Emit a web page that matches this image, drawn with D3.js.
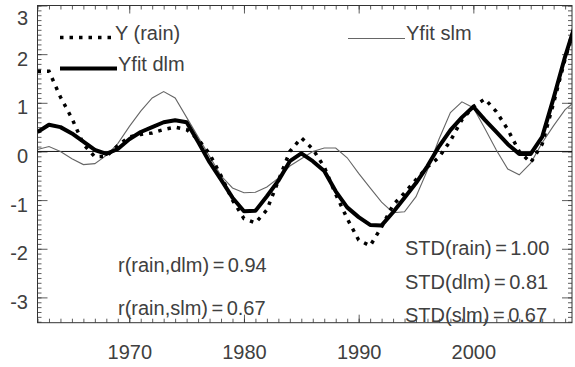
<!DOCTYPE html>
<html>
<head>
<meta charset="utf-8">
<script src="https://cdn.jsdelivr.net/npm/d3@7"></script>
<style>
  html, body { margin: 0; padding: 0; background: #fff; }
  svg { display: block; font-family: 'Liberation Sans', Arial, sans-serif; }
</style>
</head>
<body>
<div id="chart"></div>
<script>
// ---------------------------------------------------------------
// Data (annual values)
const years = d3.range(1962, 2010);
const rain = [
    1.65, 1.65, 1.12, 0.68, 0.15, -0.11, -0.10, 0.12, 0.30, 0.35,
    0.38, 0.45, 0.50, 0.45, 0.25, -0.05, -0.50, -1.00, -1.38, -1.47,
    -1.20, -0.60, 0.00, 0.28, 0.05, -0.32, -0.88, -1.38, -1.82, -1.94,
    -1.55, -1.10, -0.85, -0.58, -0.32, -0.12, 0.22, 0.65, 0.92, 1.08,
    0.82, 0.45, 0.00, -0.23, 0.15, 1.00, 1.90, 2.70,
];
const dlm = [
    0.40, 0.55, 0.50, 0.37, 0.20, 0.03, -0.05, 0.05, 0.25, 0.40,
    0.50, 0.60, 0.64, 0.60, 0.20, -0.22, -0.58, -0.95, -1.23, -1.22,
    -0.92, -0.60, -0.20, -0.04, -0.20, -0.40, -0.82, -1.15, -1.35, -1.51,
    -1.52, -1.25, -0.95, -0.65, -0.30, 0.10, 0.44, 0.70, 0.92, 0.65,
    0.40, 0.15, -0.05, -0.05, 0.30, 1.10, 1.95, 2.70,
];
const slm = [
    0.04, 0.10, 0.00, -0.15, -0.27, -0.25, -0.08, 0.16, 0.51, 0.83,
    1.10, 1.23, 1.10, 0.70, 0.30, -0.10, -0.50, -0.75, -0.85, -0.84,
    -0.73, -0.55, -0.30, -0.15, 0.00, 0.07, 0.07, -0.13, -0.45, -0.75,
    -1.04, -1.26, -1.24, -0.93, -0.38, 0.25, 0.80, 1.02, 0.90, 0.47,
    0.03, -0.36, -0.48, -0.24, 0.18, 0.53, 0.86, 1.05,
];
const yearTicks = [1970, 1980, 1990, 2000];
const valueTicks = [-3, -2, -1, 0, 1, 2, 3];
const legendLabels = ['Y (rain)', 'Yfit dlm', 'Yfit slm'];
const corrLabels = [['r(rain,dlm)', '0.94'], ['r(rain,slm)', '0.67']];
const stdLabels = [['STD(rain)', '1.00'], ['STD(dlm)', '0.81'], ['STD(slm)', '0.67']];

// ---------------------------------------------------------------
const width = 575;
const height = 367;
const box = { left: 37.5, right: 572, top: 5.5, bottom: 322.7 };
const ink = '#404040';

const svg = d3.select('#chart')
    .append('svg')
    .attr('width', width)
    .attr('height', height);

const x = d3.scaleLinear()
    .domain([1962, 2008.6])
    .range([box.left, box.right]);

const y = d3.scaleLinear()
    .domain([-3.52, 3.0])
    .range([box.bottom, box.top]);

const minorYears = d3.range(1962, 2009);
const minorValues = d3.range(-35, 31).map((d) => d / 10);

// clip for the curves
svg.append('clipPath')
    .attr('id', 'plot-clip')
    .append('rect')
    .attr('x', box.left)
    .attr('y', box.top)
    .attr('width', box.right - box.left)
    .attr('height', box.bottom - box.top);

const styleAxis = (g) => {
    g.select('.domain').remove();
    g.selectAll('line').attr('stroke', '#333').attr('stroke-width', 0.8);
    g.selectAll('text').attr('fill', ink).style('font-size', '20px');
};

// bottom axis
svg.append('g')
    .attr('transform', 'translate(0,' + box.bottom + ')')
    .call(d3.axisBottom(x).tickValues(minorYears).tickSize(-4).tickFormat(''))
    .call(styleAxis);
svg.append('g')
    .attr('transform', 'translate(0,' + box.bottom + ')')
    .call(d3.axisBottom(x).tickValues(yearTicks).tickSize(-8).tickPadding(22).tickFormat((d) => String(d)))
    .call(styleAxis);

// top axis
svg.append('g')
    .attr('transform', 'translate(0,' + box.top + ')')
    .call(d3.axisTop(x).tickValues(minorYears).tickSize(-4).tickFormat(''))
    .call(styleAxis);
svg.append('g')
    .attr('transform', 'translate(0,' + box.top + ')')
    .call(d3.axisTop(x).tickValues(yearTicks).tickSize(-8).tickFormat(''))
    .call(styleAxis);

// left axis
svg.append('g')
    .attr('transform', 'translate(' + box.left + ',0)')
    .call(d3.axisLeft(y).tickValues(minorValues).tickSize(-4).tickFormat(''))
    .call(styleAxis);
svg.append('g')
    .attr('transform', 'translate(' + box.left + ',0)')
    .call(d3.axisLeft(y).tickValues(valueTicks).tickSize(-10).tickPadding(9.5).tickFormat((d) => String(d)))
    .call(styleAxis)
    .selectAll('text')
    .attr('dy', '0.35em')
    .attr('y', (d) => Math.max(y(d) + 4, 17) - y(d));

// right axis
svg.append('g')
    .attr('transform', 'translate(' + box.right + ',0)')
    .call(d3.axisRight(y).tickValues(minorValues).tickSize(-4).tickFormat(''))
    .call(styleAxis);
svg.append('g')
    .attr('transform', 'translate(' + box.right + ',0)')
    .call(d3.axisRight(y).tickValues(valueTicks).tickSize(-10).tickFormat(''))
    .call(styleAxis);

// frame
svg.append('rect')
    .attr('x', box.left)
    .attr('y', box.top)
    .attr('width', box.right - box.left)
    .attr('height', box.bottom - box.top)
    .attr('fill', 'none')
    .attr('stroke', '#333')
    .attr('stroke-width', 1);

// zero line
svg.append('line')
    .attr('x1', box.left)
    .attr('x2', box.right)
    .attr('y1', y(0))
    .attr('y2', y(0))
    .attr('stroke', '#111')
    .attr('stroke-width', 1);

// curves
const line = d3.line()
    .x((d, i) => x(years[i]))
    .y((d) => y(d));

const curves = svg.append('g').attr('clip-path', 'url(#plot-clip)');

curves.append('path')
    .datum(slm)
    .attr('fill', 'none')
    .attr('stroke', '#666')
    .attr('stroke-width', 1.1)
    .attr('d', line);

curves.append('path')
    .datum(dlm)
    .attr('fill', 'none')
    .attr('stroke', '#000')
    .attr('stroke-width', 4)
    .attr('stroke-linejoin', 'round')
    .attr('d', line);

curves.append('path')
    .datum(rain)
    .attr('fill', 'none')
    .attr('stroke', '#000')
    .attr('stroke-width', 3.5)
    .attr('stroke-dasharray', '3.5,6')
    .attr('d', line);

// legend
const legend = svg.append('g');
legend.append('line')
    .attr('x1', 60).attr('x2', 113).attr('y1', 37.5).attr('y2', 37.5)
    .attr('stroke', '#000').attr('stroke-width', 3.5).attr('stroke-dasharray', '3.5,6');
legend.append('text')
    .attr('x', 115).attr('y', 40)
    .text(legendLabels[0]);
legend.append('line')
    .attr('x1', 60).attr('x2', 117).attr('y1', 68.5).attr('y2', 68.5)
    .attr('stroke', '#000').attr('stroke-width', 4);
legend.append('text')
    .attr('x', 118).attr('y', 70.5)
    .text(legendLabels[1]);
legend.append('line')
    .attr('x1', 348).attr('x2', 405).attr('y1', 38.5).attr('y2', 38.5)
    .attr('stroke', '#666').attr('stroke-width', 1.1);
legend.append('text')
    .attr('x', 406).attr('y', 40)
    .text(legendLabels[2]);
legend.selectAll('text').attr('fill', ink).style('font-size', '20px');

// statistics
const addStat = (pair, tx, ty) => {
    const t = svg.append('text')
        .attr('x', tx)
        .attr('y', ty)
        .attr('fill', ink)
        .style('font-size', '20px');
    t.append('tspan').text(pair[0]);
    t.append('tspan').attr('dx', 3.5).text('=');
    t.append('tspan').attr('dx', 3.5).text(pair[1]);
};
corrLabels.forEach((p, i) => addStat(p, 118, 272 + i * 43));
stdLabels.forEach((p, i) => addStat(p, 405, 255 + i * 33.5));
</script>
</body>
</html>
